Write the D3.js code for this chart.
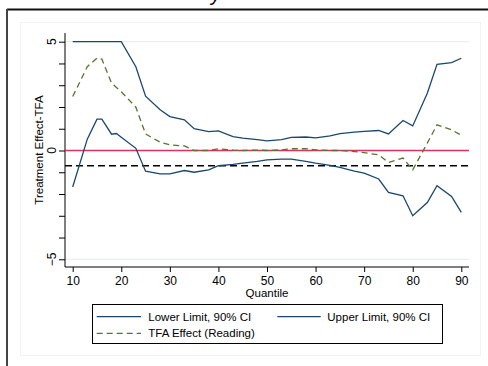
<!DOCTYPE html>
<html><head><meta charset="utf-8">
<script src="https://cdn.jsdelivr.net/npm/d3@7"></script>
<style>
html,body{margin:0;padding:0;background:#fff;}
svg{display:block;font-family:"Liberation Sans",Arial,sans-serif;}
</style></head>
<body>
<svg id="c" width="488" height="366"></svg>
<script>
const quantiles = [10,13,15,16,18,19,20,23,25,28,30,33,35,38,40,43,45,48,50,53,55,58,60,63,65,68,70,73,75,78,80,83,85,88,90];
const lowerLimit = [-1.68,0.52,1.44,1.44,0.75,0.78,0.61,0.1,-0.95,-1.07,-1.07,-0.92,-1.0,-0.89,-0.70,-0.64,-0.58,-0.5,-0.43,-0.40,-0.40,-0.5,-0.58,-0.68,-0.78,-0.95,-1.04,-1.31,-1.93,-2.08,-3.0,-2.39,-1.62,-2.11,-2.84];
const upperLimit = [5,5,5,5,5,5,5,3.85,2.5,1.87,1.56,1.41,1.0,0.87,0.9,0.64,0.57,0.5,0.44,0.5,0.6,0.62,0.58,0.67,0.78,0.84,0.88,0.92,0.76,1.38,1.13,2.63,3.96,4.04,4.24];
const tfaEffect = [2.48,3.85,4.25,4.2,3.09,2.9,2.7,1.99,0.76,0.38,0.26,0.21,0.0,0.0,0.08,0.02,0.0,0.02,0.0,0.03,0.08,0.08,0.03,0.0,0.0,-0.05,-0.1,-0.2,-0.55,-0.35,-0.89,0.34,1.18,0.95,0.7];
const xTicks = [10,20,30,40,50,60,70,80,90];
const yTicks = [-5,-4,-3,-2,-1,0,1,2,3,4,5];
const yLabels = [-5,0,5];
const refLine = -0.7;
const seriesNames = ["Lower Limit, 90% CI","Upper Limit, 90% CI","TFA Effect (Reading)"];

const svg = d3.select("#c");
const blue = "#1a476f", green = "#55752f", red = "#e0305e";

// outer frame pieces
svg.append("rect").attr("x",20.5).attr("y",22.5).attr("width",460).attr("height",333).attr("fill","none").attr("stroke","#f0f2f3");
svg.append("line").attr("x1",7).attr("x2",488).attr("y1",9.5).attr("y2",9.5).attr("stroke","#111").attr("stroke-width",2);
svg.append("line").attr("x1",7).attr("x2",7).attr("y1",9).attr("y2",366).attr("stroke","#444").attr("stroke-width",2);
svg.append("text").attr("x",211).attr("y",1).attr("font-size",20).attr("font-style","italic").text("y");

const x = d3.scaleLinear().domain([10,90]).range([72.7,461.3]);
const y = d3.scaleLinear().domain([-5,5]).range([259.3,41.7]);
const L = 65, R = 469, T = 33, B = 267;

// gridlines at labelled non-zero ticks
svg.append("g").selectAll("line").data([-5,5]).join("line")
  .attr("x1",L).attr("x2",R).attr("y1",d=>y(d)).attr("y2",d=>y(d))
  .attr("stroke","#e3ecef").attr("stroke-width",1);

// y axis
const yAxis = d3.axisLeft(y).tickValues(yTicks).tickSize(6).tickFormat("");
const gy = svg.append("g").attr("transform",`translate(${L},0)`).call(yAxis);
gy.select(".domain").attr("d",`M0,${T}V${B}`).attr("stroke","#000");
gy.selectAll(".tick line").attr("stroke","#000");
svg.append("g").selectAll("text").data(yLabels).join("text")
  .attr("transform",d=>`translate(56,${y(d)}) rotate(-90)`)
  .attr("text-anchor","middle").attr("font-size",12).attr("fill","#000")
  .text(d=>d3.format("d")(d));

// x axis
const xAxis = d3.axisBottom(x).tickValues(xTicks).tickSize(5).tickFormat(d3.format("d"));
const gx = svg.append("g").attr("transform",`translate(0,${B})`).call(xAxis);
gx.select(".domain").attr("d",`M${L},0H${R}`).attr("stroke","#000");
gx.selectAll(".tick line").attr("stroke","#000");
gx.selectAll(".tick text").attr("font-size",12).attr("fill","#000").attr("font-family","Liberation Sans, Arial, sans-serif").attr("y",17.5).attr("dy","0");

svg.append("text").attr("x",267).attr("y",296.5).attr("text-anchor","middle").attr("font-size",11.5).text("Quantile");
svg.append("text").attr("transform",`translate(43,${(T+B)/2}) rotate(-90)`).attr("text-anchor","middle").attr("font-size",11.5).text("Treatment Effect-TFA");

// reference lines
svg.append("line").attr("x1",L).attr("x2",R).attr("y1",y(0)).attr("y2",y(0)).attr("stroke",red).attr("stroke-width",1.4);
svg.append("line").attr("x1",L).attr("x2",R).attr("y1",y(refLine)).attr("y2",y(refLine)).attr("stroke","#000").attr("stroke-width",1.3).attr("stroke-dasharray","7,4");

const line = vals => d3.line().x((d,i)=>x(quantiles[i])).y(d=>y(d))(vals);
svg.append("path").attr("d",line(lowerLimit)).attr("fill","none").attr("stroke",blue).attr("stroke-width",1.3);
svg.append("path").attr("d",line(upperLimit)).attr("fill","none").attr("stroke",blue).attr("stroke-width",1.3);
svg.append("path").attr("d",line(tfaEffect)).attr("fill","none").attr("stroke",green).attr("stroke-width",1.3).attr("stroke-dasharray","6,4");

// legend
const lg = svg.append("g");
lg.append("rect").attr("x",92.5).attr("y",304.5).attr("width",350).attr("height",39).attr("fill","#fff").attr("stroke","#000");
const items = [
  {name:seriesNames[0],x0:96.7,x1:141,tx:148.3,yy:316.7,c:blue,dash:null},
  {name:seriesNames[1],x0:277.3,x1:320.7,tx:327.3,yy:316.7,c:blue,dash:null},
  {name:seriesNames[2],x0:96.7,x1:141,tx:148.3,yy:333.3,c:green,dash:"6,4"}
];
items.forEach(it=>{
  lg.append("line").attr("x1",it.x0).attr("x2",it.x1).attr("y1",it.yy).attr("y2",it.yy)
    .attr("stroke",it.c).attr("stroke-width",1.3).attr("stroke-dasharray",it.dash);
  lg.append("text").attr("x",it.tx).attr("y",it.yy+4).attr("font-size",11.5).text(it.name);
});
</script>
</body></html>
